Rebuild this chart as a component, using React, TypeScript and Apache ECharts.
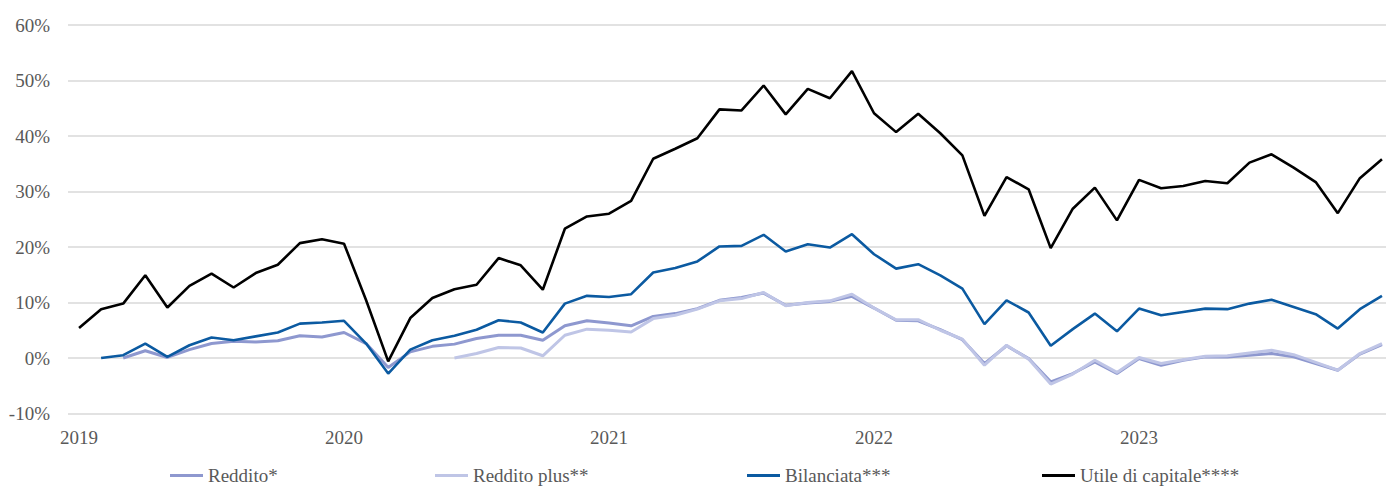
import React, { useEffect, useRef } from "react";
import * as echarts from "echarts";

const years = ["2019", "2020", "2021", "2022", "2023"];
const monthsPerYear = 12;

const seriesNames = ["Reddito*", "Reddito plus**", "Bilanciata***", "Utile di capitale****"];

const reddito: (number | null)[] = [
  null, null, 0.0, 1.3, 0.1, 1.5, 2.6, 3.0, 2.9, 3.1, 4.0, 3.8,
  4.6, 2.6, -1.7, 1.1, 2.1, 2.5, 3.5, 4.1, 4.1, 3.2, 5.8, 6.7,
  6.3, 5.8, 7.5, 8.0, 8.9, 10.4, 10.9, 11.7, 9.5, 9.9, 10.2, 11.1,
  9.0, 6.8, 6.7, 5.1, 3.3, -1.0, 2.2, -0.1, -4.3, -2.8, -0.7, -2.8,
  -0.1, -1.3, -0.4, 0.2, 0.2, 0.5, 0.8, 0.2, -1.0, -2.2, 0.7, 2.4,
];

const redditoPlus: (number | null)[] = [
  null, null, null, null, null, null, null, null, null, null, null, null,
  null, null, null, null, null, 0.0, 0.8, 1.9, 1.8, 0.4, 4.1, 5.2,
  5.0, 4.7, 7.1, 7.7, 8.8, 10.3, 10.7, 11.8, 9.4, 10.0, 10.3, 11.5,
  9.0, 6.9, 6.9, 5.0, 3.4, -1.3, 2.3, -0.2, -4.7, -2.9, -0.4, -2.6,
  0.1, -1.0, -0.3, 0.3, 0.4, 0.9, 1.4, 0.6, -0.8, -2.2, 0.8, 2.6,
];

const bilanciata: (number | null)[] = [
  null, 0.0, 0.5, 2.6, 0.2, 2.3, 3.7, 3.2, 3.9, 4.6, 6.2, 6.4,
  6.7, 2.6, -2.8, 1.5, 3.2, 4.0, 5.1, 6.8, 6.4, 4.6, 9.8, 11.2,
  11.0, 11.5, 15.4, 16.2, 17.4, 20.1, 20.2, 22.2, 19.2, 20.5, 19.9, 22.3,
  18.7, 16.1, 16.9, 14.9, 12.5, 6.1, 10.4, 8.2, 2.2, 5.2, 8.0, 4.8,
  8.9, 7.7, 8.3, 8.9, 8.8, 9.8, 10.5, 9.2, 7.9, 5.3, 8.8, 11.2,
];

const utile: (number | null)[] = [
  5.4, 8.8, 9.8, 14.9, 9.1, 13.0, 15.2, 12.7, 15.3, 16.8, 20.7, 21.4,
  20.6, 10.4, -0.6, 7.2, 10.8, 12.4, 13.2, 18.0, 16.7, 12.3, 23.3, 25.5,
  26.0, 28.3, 35.9, 37.7, 39.6, 44.8, 44.6, 49.1, 43.9, 48.5, 46.8, 51.7,
  44.1, 40.7, 44.0, 40.5, 36.5, 25.6, 32.6, 30.4, 19.8, 26.9, 30.7, 24.8,
  32.1, 30.6, 31.0, 31.9, 31.5, 35.2, 36.7, 34.3, 31.7, 26.1, 32.4, 35.8,
];

const colors = ["#8e98cf", "#bfc5e6", "#0b5aa1", "#000000"];

const categories: string[] = [];
years.forEach((y) => {
  for (let m = 1; m <= monthsPerYear; m++) categories.push(`${y}-${String(m).padStart(2, "0")}`);
});

const FONT = "Liberation Serif";
const labelStyle = { fontFamily: FONT, fontSize: 19, color: "#595959" };

export default function App() {
  const ref = useRef<HTMLDivElement>(null);
  useEffect(() => {
    if (!ref.current) return;
    const chart = echarts.init(ref.current, undefined, { renderer: "svg" });
    const dataSets = [reddito, redditoPlus, bilanciata, utile];
    const legendLefts = [170, 435, 747, 1042];
    chart.setOption({
      animation: false,
      backgroundColor: "#ffffff",
      textStyle: { fontFamily: FONT },
      grid: { left: 68, right: 7, top: 25, bottom: 72.5, containLabel: false },
      legend: seriesNames.map((n, i) => ({
        data: [n],
        left: legendLefts[i],
        top: 466,
        icon: "rect",
        itemWidth: 33,
        itemHeight: 3,
        itemGap: 0,
        padding: 0,
        selectedMode: false,
        textStyle: labelStyle,
      })),
      xAxis: {
        type: "category",
        data: categories,
        boundaryGap: true,
        axisLine: { show: false },
        axisTick: { show: false },
        splitLine: { show: false },
        axisLabel: {
          interval: (i: number) => i % monthsPerYear === 0,
          formatter: (v: string) => v.slice(0, 4),
          ...labelStyle,
          margin: 14,
        },
      },
      yAxis: {
        type: "value",
        min: -10,
        max: 60,
        interval: 10,
        axisLine: { show: false },
        axisTick: { show: false },
        splitLine: { lineStyle: { color: "#d9d9d9", width: 1.5 } },
        axisLabel: {
          formatter: (v: number) => `${v}%`,
          ...labelStyle,
          margin: 18,
        },
      },
      series: seriesNames.map((n, i) => ({
        name: n,
        type: "line",
        data: dataSets[i],
        symbol: "none",
        showSymbol: false,
        connectNulls: false,
        color: colors[i],
        lineStyle: { color: colors[i], width: i < 2 ? 3 : 2.6 },
      })),
    });
    const fixFonts = () => {
      ref.current?.querySelectorAll("text").forEach((t) => {
        t.setAttribute("font-family", FONT);
        (t as SVGTextElement).style.fontFamily = `"${FONT}", serif`;
      });
    };
    fixFonts();
    chart.on("finished", fixFonts);
    return () => chart.dispose();
  }, []);
  return (
    <div style={{ position: "fixed", left: 0, top: 0, width: 1386, height: 486, overflow: "hidden", background: "#fff" }}>
      <div ref={ref} style={{ width: 1400, height: 486 }} />
    </div>
  );
}
